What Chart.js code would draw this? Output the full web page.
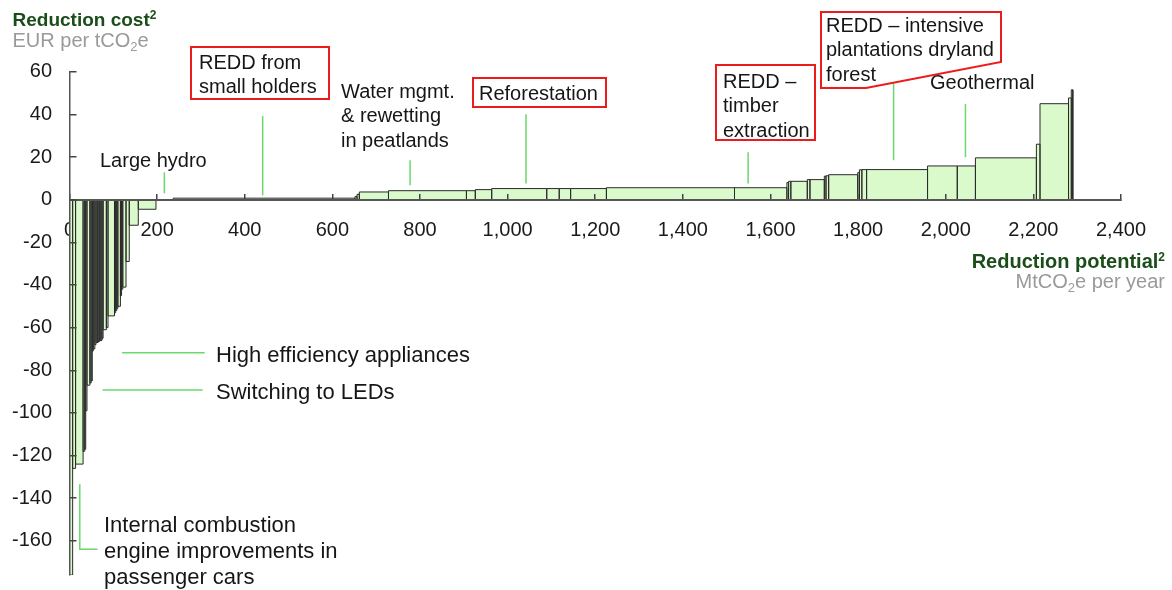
<!DOCTYPE html>
<html><head><meta charset="utf-8">
<script src="https://cdn.jsdelivr.net/npm/chart.js@4.4.1/dist/chart.umd.min.js"></script>
<style>html,body{margin:0;padding:0;background:#fff;}canvas{display:block;}</style>
</head><body>
<canvas id="c" width="1172" height="590"></canvas>
<script>
// ---- Data: abatement levers sorted by cost ----
// Reduction cost per lever (EUR per tCO2e)
const leverCosts = [
  -176,-126,-124,-118,-117,-99,-87,-86,-85,-71,
  -70,-68,-67,-67,-66.5,-66,-66,-65,-61,-60,
  -54.5,-53,-52,-51,-50,-45,-42,-41,-29,-12,
  -4.5,
  0,0.7,1.5,2.5,3.6,4.2,4.2,4.7,5.2,5.2,5.2,5.2,5.6,5.6,
  8.0,8.6,8.6,9.4,9.4,11,11.2,11.7,12.7,14,14.1,14.1,
  15.8,15.8,19.6,26,45,47.7,51.5
];
// Reduction potential per lever (MtCO2e per year) = bar widths
const leverPotentials = [
  7.2,6.7,17.1,3.8,2.2,2.9,6.7,2.7,2.7,2.2,
  3.6,2.7,2.7,2.2,3.6,2.7,2.5,2.5,7.4,3.8,
  14.8,2.7,2.5,2.5,5.8,2.7,2.7,7.4,7.4,20.6,
  40.4,
  39.3,415.1,4.5,5.2,66.6,177.9,20.2,37.5,125.6,28.5,26.0,81.7,292.4,119.6,
  3.8,5.2,37.5,6.1,32.8,3.8,6.1,66.4,3.8,5.6,10.8,139.1,
  67.8,41.5,139.1,8.3,65.1,6.3,3.4
];
// Axis ranges / ticks
const xTickStep = 200, xMin = 0, xMax = 2400;
const yTickStep = 20, yMin = -176, yMax = 60;

// Pointer lines for callouts, in data units [x, y]
const pointerLines = [
  [[216.5,12.8],[216.5,3.0]],        // Large hydro
  [[440.9,39.2],[440.9,2.0]],        // REDD small holders
  [[777.4,18.5],[777.4,6.7]],        // Water mgmt
  [[1042,40.1],[1042,7.6]],          // Reforestation
  [[1549,22.2],[1549,7.6]],          // REDD timber
  [[1881,55.1],[1881,18.5]],         // REDD intensive
  [[2045,44.8],[2045,19.9]],         // Geothermal
  [[120.1,-71.8],[308.6,-71.8]],     // High efficiency appliances
  [[75.2,-89.3],[304.1,-89.3]],      // LEDs
  [[23.5,-133.4],[23.5,-163.9],[64,-163.9]] // ICE
];

const FONT = "'Liberation Sans', Arial, Helvetica, sans-serif";
const calloutTexts = [
  {lines:['Large hydro'], x:100, y:166.7, size:20},
  {lines:['REDD from','small holders'], x:199, y:69, size:20, box:[191,47,329,99]},
  {lines:['Water mgmt.','& rewetting','in peatlands'], x:341, y:98, size:20},
  {lines:['Reforestation'], x:479, y:100, size:20, box:[473,78,606,107]},
  {lines:['REDD \u2013','timber','extraction'], x:723, y:88, size:20, box:[716,65,815,140]},
  {lines:['REDD \u2013 intensive','plantations dryland','forest'], x:826, y:32, size:20,
    poly:[[821,12],[1001,12],[1001,62],[866,88],[821,88]]},
  {lines:['Geothermal'], x:930, y:89, size:20},
  {lines:['High efficiency appliances'], x:216, y:361.7, size:22},
  {lines:['Switching to LEDs'], x:216, y:399, size:22},
  {lines:['Internal combustion','engine improvements in','passenger cars'], x:104, y:531.7, size:22}
];

// Build the step outline of the cost curve from the arrays
const curve = [];
let cum = 0;
leverPotentials.forEach((w, i) => {
  const c = leverCosts[i];
  curve.push({x: cum, y: 0}, {x: cum, y: c});
  cum += w;
  curve.push({x: cum, y: c}, {x: cum, y: 0});
});

function drawRuns(ctx, runs, x, y, align) {
  let total = 0;
  runs.forEach(r => { ctx.font = r.font; r.w = ctx.measureText(r.t).width; total += r.w; });
  let cx = align === 'right' ? x - total : x;
  ctx.textAlign = 'left'; ctx.textBaseline = 'alphabetic';
  runs.forEach(r => { ctx.font = r.font; ctx.fillStyle = r.color; ctx.fillText(r.t, cx, y + (r.dy || 0)); cx += r.w; });
}

const annotationPlugin = {
  id: 'callouts',
  afterDraw(chart) {
    const ctx = chart.ctx, xs = chart.scales.x, ys = chart.scales.y;
    ctx.save();
    ctx.strokeStyle = '#6ad86a'; ctx.lineWidth = 1.5;
    pointerLines.forEach(pl => {
      ctx.beginPath();
      pl.forEach((p, i) => {
        const px = xs.getPixelForValue(p[0]), py = ys.getPixelForValue(p[1]);
        if (i === 0) ctx.moveTo(px, py); else ctx.lineTo(px, py);
      });
      ctx.stroke();
    });
    calloutTexts.forEach(t => {
      ctx.font = t.size + 'px ' + FONT;
      ctx.fillStyle = '#161616'; ctx.textAlign = 'left'; ctx.textBaseline = 'alphabetic';
      const lh = t.size === 22 ? 26 : 24.3;
      t.lines.forEach((l, i) => ctx.fillText(l, t.x, t.y + i * lh));
      ctx.strokeStyle = '#ee1b1b'; ctx.lineWidth = 2;
      if (t.box) {
        const b = t.box; ctx.strokeRect(b[0], b[1], b[2] - b[0], b[3] - b[1]);
      }
      if (t.poly) {
        ctx.beginPath(); t.poly.forEach((p, i) => i ? ctx.lineTo(p[0], p[1]) : ctx.moveTo(p[0], p[1]));
        ctx.closePath(); ctx.stroke();
      }
    });
    const green = '#1b4d1b', gray = '#9a9a9a';
    drawRuns(ctx, [
      {t:'Reduction cost', font:'bold 19px ' + FONT, color:green},
      {t:'2', font:'bold 12px ' + FONT, color:green, dy:-7}], 12.5, 26, 'left');
    drawRuns(ctx, [
      {t:'EUR per tCO', font:'20px ' + FONT, color:gray},
      {t:'2', font:'13px ' + FONT, color:gray, dy:4},
      {t:'e', font:'20px ' + FONT, color:gray}], 12.5, 46.7, 'left');
    drawRuns(ctx, [
      {t:'Reduction potential', font:'bold 20px ' + FONT, color:green},
      {t:'2', font:'bold 12px ' + FONT, color:green, dy:-7}], 1165, 268.3, 'right');
    drawRuns(ctx, [
      {t:'MtCO', font:'20px ' + FONT, color:gray},
      {t:'2', font:'13px ' + FONT, color:gray, dy:4},
      {t:'e per year', font:'20px ' + FONT, color:gray}], 1165, 288.3, 'right');
    ctx.restore();
  }
};

Chart.defaults.font.family = FONT;
Chart.defaults.font.size = 20;
Chart.defaults.color = '#1a1a1a';

new Chart(document.getElementById('c'), {
  type: 'scatter',
  data: {
    datasets: [{
      data: curve,
      showLine: true,
      fill: 'origin',
      backgroundColor: '#dbfacb',
      borderColor: '#2a2a2a',
      borderWidth: 1,
      pointRadius: 0,
      pointHoverRadius: 0,
      tension: 0,
      borderJoinStyle: 'miter'
    }]
  },
  options: {
    responsive: false,
    animation: false,
    devicePixelRatio: 1,
    layout: {padding: {left: 11, top: 71.7, right: 32.7, bottom: 15}},
    plugins: {legend: {display: false}, tooltip: {enabled: false}},
    events: [],
    scales: {
      x: {
        type: 'linear', min: xMin, max: xMax, position: {y: 0},
        ticks: {stepSize: xTickStep, padding: 26, maxRotation: 0, autoSkip: false, color: '#1a1a1a'},
        grid: {drawOnChartArea: false, drawTicks: true, tickLength: -7, color: '#444', lineWidth: 1.5, z: 1},
        border: {color: '#555', width: 2, z: 1},
        afterFit(s) { s.height = 0; s.paddingTop = 0; s.paddingBottom = 0; }
      },
      y: {
        type: 'linear', min: yMin, max: yMax, position: 'left',
        ticks: {stepSize: yTickStep, includeBounds: false, padding: 24.5, color: '#1a1a1a'},
        grid: {drawOnChartArea: false, drawTicks: true, tickLength: -7, color: '#444', lineWidth: 1.5, z: 1},
        border: {color: '#555', width: 1.5, z: 1},
        afterFit(s) { s.width = 58.5; s.paddingTop = 0; s.paddingBottom = 0; }
      }
    }
  },
  plugins: [annotationPlugin]
});
</script>
</body></html>
